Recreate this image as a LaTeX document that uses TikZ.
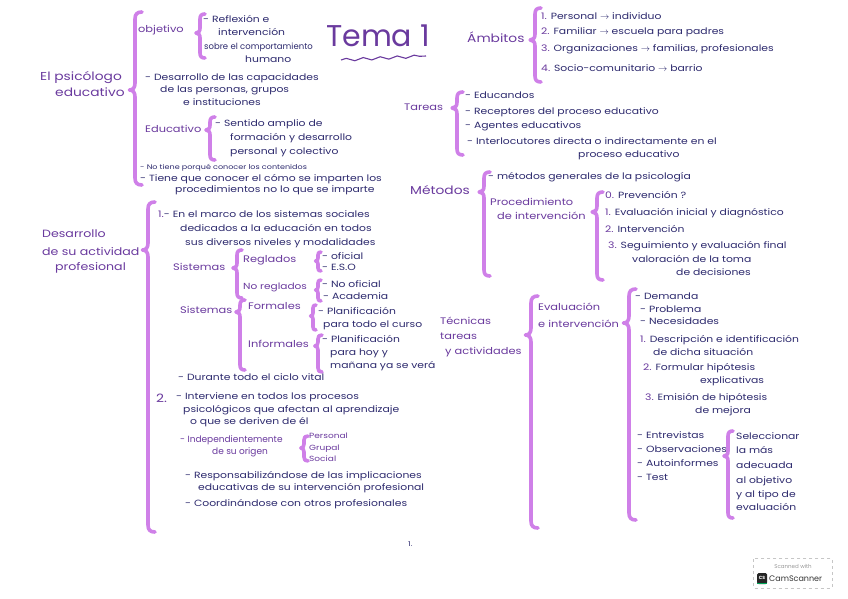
\documentclass[tikz,border=0pt]{standalone}
\usepackage{fontspec}
\usetikzlibrary{decorations.pathmorphing}
\newfontfamily\hand{Poppins}
\newfontfamily\handw[FakeStretch=1.2]{Poppins}
\definecolor{labc}{HTML}{6A3A9E}
\definecolor{bodyc}{HTML}{2D2A6E}
\definecolor{bracec}{HTML}{CF80E8}
\newcommand\bodyf{\handw\fontsize{9}{10}\selectfont}
\newcommand\smallf{\handw\fontsize{6.7}{8}\selectfont}
\newcommand\labf{\handw\fontsize{11.5}{13}\selectfont}
\newcommand\labsf{\handw\fontsize{9.5}{11}\selectfont}
\newcommand\pn[1]{\textcolor{labc}{#1}}
\newcommand\cbr[5][6]{%
 \draw[brc] ({#2+#1},#3) .. controls ({#2+0.3*#1},#3) and (#2,{#3+0.3*#1}) .. (#2,{#3+#1})
  -- (#2,{#4-#1}) .. controls (#2,{#4-0.3*#1}) and ({#2-0.3*#1},#4) .. ({#2-0.8*#1},#4)
  .. controls ({#2-0.3*#1},#4) and (#2,{#4+0.3*#1}) .. (#2,{#4+#1})
  -- (#2,{#5-#1}) .. controls (#2,{#5-0.3*#1}) and ({#2+0.3*#1},#5) .. ({#2+#1},#5);}
\tikzset{
 body/.style={font=\bodyf, text=bodyc, anchor=west, inner sep=0pt, text height=6.5pt, text depth=2pt},
 small/.style={body, font=\smallf, text height=5pt, text depth=1.5pt},
 lab/.style={font=\labf, text=labc, anchor=west, inner sep=0pt, text height=8pt, text depth=2.5pt},
 labs/.style={font=\labsf, text=labc, anchor=west, inner sep=0pt, text height=7pt, text depth=2pt},
 brc/.style={draw=bracec, line width=3.6pt, line cap=round, line join=round},
}
\begin{document}
\begin{tikzpicture}[x=1pt,y=-1pt]
\useasboundingbox[fill=white] (0,0) rectangle (848,599);
% ---------- left column ----------
\node[lab] (ps1) at (40,78) {El psicólogo};
\node[lab] (ps2) at (55,94) {educativo};
\cbr[7]{135}{12}{90}{185}
\node[labs] (obj) at (138,30) {objetivo};
\cbr[5]{200}{14}{33}{58}
\node[body] (o1) at (203,20) {- Reflexión e};
\node[body] (o2) at (218,33) {intervención};
\node[body, font=\hand\fontsize{8.5}{10}\selectfont] (o3) at (204,47) {sobre el comportamiento};
\node[body] (o4) at (245,60) {humano};
\node[body] (d1) at (145,78) {- Desarrollo de las capacidades};
\node[body] (d2) at (160,90) {de las personas, grupos};
\node[body] (d3) at (183,103) {e instituciones};
\node[labs] (edu) at (145,130) {Educativo};
\cbr[5]{210}{117}{130}{160}
\node[body] (e1) at (215,124) {- Sentido amplio de};
\node[body] (e2) at (230,138) {formación y desarrollo};
\node[body] (e3) at (230,152) {personal y colectivo};
\node[small] (nt) at (140,168) {- No tiene porqué conocer los contenidos};
\node[body] (tq1) at (140,179) {- Tiene que conocer el cómo se imparten los};
\node[body] (tq2) at (175,190) {procedimientos no lo que se imparte};
% Desarrollo
\node[lab, font=\handw\fontsize{10.5}{12}\selectfont] (da1) at (42,235) {Desarrollo};
\node[lab, font=\handw\fontsize{10.5}{12}\selectfont] (da2) at (42,253) {de su actividad};
\node[lab, font=\handw\fontsize{10.5}{12}\selectfont] (da3) at (55,268) {profesional};
\cbr[7]{148}{202}{250}{532}
\node[body] (m1) at (158,215) {\pn{1.}- En el marco de los sistemas sociales};
\node[body] (m2) at (180,229) {dedicados a la educación en todos};
\node[body] (m3) at (185,243) {sus diversos niveles y modalidades};
\node[labs] (sis1) at (173,268) {Sistemas};
\cbr[5]{237}{250}{268}{298}
\node[labs] (reg) at (243,260) {Reglados};
\node[labs, font=\handw\fontsize{8.8}{10}\selectfont] (noreg) at (243,287) {No reglados};
\cbr[3]{318}{252}{261}{271}
\node[body] (r1) at (322,257) {- oficial};
\node[body] (r2) at (322,268) {- E.S.O};
\cbr[3]{318}{280}{290}{301}
\node[body] (nr1) at (322,285) {- No oficial};
\node[body] (nr2) at (323,297) {- Academia};
\node[labs] (sis2) at (180,311) {Sistemas};
\cbr[5]{240}{300}{312}{370}
\node[labs] (form) at (248,307) {Formales};
\cbr[3]{313}{305}{316}{330}
\node[body] (f1) at (318,312) {- Planificación};
\node[body] (f2) at (323,325) {para todo el curso};
\node[labs] (inf) at (248,345) {Informales};
\cbr[4]{318}{335}{346}{372}
\node[body] (i1) at (322,340) {- Planificación};
\node[body] (i2) at (330,353) {para hoy y};
\node[body] (i3) at (330,366) {mañana ya se verá};
\node[body] (dur) at (178,378) {- Durante todo el ciclo vital};
\node[lab] (two) at (156,400) {2.};
\node[body] (iv1) at (176,397) {- Interviene en todos los procesos};
\node[body] (iv2) at (183,410) {psicológicos que afectan al aprendizaje};
\node[body] (iv3) at (190,422) {o que se deriven de él};
\node[body, text=labc, font=\hand\fontsize{9}{10}\selectfont] (ind1) at (180,440) {- Independientemente};
\node[body, text=labc, font=\hand\fontsize{9}{10}\selectfont] (ind2) at (212,452) {de su origen};
\cbr[4]{304}{436}{448}{461}
\node[small, text=labc, font=\handw\fontsize{7.5}{8}\selectfont] (pg1) at (309,437) {Personal};
\node[small, text=labc, font=\handw\fontsize{7.5}{8}\selectfont] (pg2) at (309,449) {Grupal};
\node[small, text=labc, font=\handw\fontsize{7.5}{8}\selectfont] (pg3) at (309,460) {Social};
\node[body] (res1) at (185,476) {- Responsabilizándose de las implicaciones};
\node[body] (res2) at (198,488) {educativas de su intervención profesional};
\node[body] (coo) at (185,504) {- Coordinándose con otros profesionales};
\node[small] (pag) at (408,545) {1.};
% ---------- right column ----------
\node[font=\hand\fontsize{30}{32}\selectfont, text=labc, anchor=west, inner sep=0pt] (tema) at (326,36) {Tema 1};
\draw[labc, line width=1.1pt, decorate, decoration={snake, amplitude=1.4pt, segment length=17pt}] (341,60) -- (426,56);
\node[lab] (amb) at (467,40) {Ámbitos};
\cbr[6]{535}{8}{40}{82}
\node[body] (a1) at (541,17) {\pn{1.} Personal $\to$ individuo};
\node[body] (a2) at (541,32) {\pn{2.} Familiar $\to$ escuela para padres};
\node[body] (a3) at (541,49) {\pn{3.} Organizaciones $\to$ familias, profesionales};
\node[body] (a4) at (541,69) {\pn{4.} Socio-comunitario $\to$ barrio};
\node[labs] (tar) at (404,108) {Tareas};
\cbr[6]{457}{92}{108}{155}
\node[body] (t1) at (465,96) {- Educandos};
\node[body] (t2) at (465,112) {- Receptores del proceso educativo};
\node[body] (t3) at (465,126) {- Agentes educativos};
\node[body] (t4) at (467,142) {- Interlocutores directa o indirectamente en el};
\node[body] (t5) at (578,155) {proceso educativo};
\node[lab] (met) at (410,192) {Métodos};
\cbr[6]{484}{172}{192}{276}
\node[body] (mg) at (488,177) {- métodos generales de la psicología};
\node[labs] (pr1) at (490,203) {Procedimiento};
\node[labs] (pr2) at (497,217) {de intervención};
\cbr[6]{597}{192}{212}{280}
\node[body] (p0) at (605,196) {\pn{0.} Prevención ?};
\node[body] (p1) at (605,213) {\pn{1.} Evaluación inicial y diagnóstico};
\node[body] (p2) at (605,230) {\pn{2.} Intervención};
\node[body] (p3) at (608,246) {\pn{3.} Seguimiento y evaluación final};
\node[body] (p4) at (632,260) {valoración de la toma};
\node[body] (p5) at (676,273) {de decisiones};
\node[labs] (tec1) at (440,322) {Técnicas};
\node[labs] (tec2) at (440,337) {tareas};
\node[labs] (tec3) at (445,352) {y actividades};
\cbr[7]{531}{296}{335}{528}
\node[labs] (ev1) at (538,308) {Evaluación};
\node[labs] (ev2) at (538,325) {e intervención};
\cbr[7]{629}{289}{323}{520}
\node[body] (dm) at (635,297) {- Demanda};
\node[body] (pb) at (640,310) {- Problema};
\node[body] (nc) at (640,322) {- Necesidades};
\node[body] (s1) at (640,340) {\pn{1.} Descripción e identificación};
\node[body] (s1b) at (653,353) {de dicha situación};
\node[body] (s2) at (643,368) {\pn{2.} Formular hipótesis};
\node[body] (s2b) at (700,381) {explicativas};
\node[body] (s3) at (645,398) {\pn{3.} Emisión de hipótesis};
\node[body] (s3b) at (695,411) {de mejora};
\node[body] (en) at (637,436) {- Entrevistas};
\node[body] (ob) at (637,450) {- Observaciones};
\node[body] (au) at (637,464) {- Autoinformes};
\node[body] (ts) at (637,478) {- Test};
\cbr[5]{728}{431}{456}{518}
\node[body] (g1) at (736,437) {Seleccionar};
\node[body] (g2) at (736,451) {la más};
\node[body] (g3) at (736,466) {adecuada};
\node[body] (g4) at (736,481) {al objetivo};
\node[body] (g5) at (736,495) {y al tipo de};
\node[body] (g6) at (736,508) {evaluación};
% ---------- CamScanner badge ----------
\draw[gray!45, dashed, line width=0.5pt, rounded corners=1pt] (753,558) rectangle (832,588);
\node[font=\hand\fontsize{5.5}{6}\selectfont, text=gray!80, inner sep=0pt] (scw) at (793,566) {Scanned with};
\fill[black!85, rounded corners=1.5pt] (757,573) rectangle (767,584);
\fill[teal!70!green] (757,582.5) rectangle (767,584);
\node[font=\hand\bfseries\fontsize{4.5}{5}\selectfont, text=white, inner sep=0pt] (cs) at (762,578) {CS};
\node[font=\hand\fontsize{8}{9}\selectfont, text=black!80, anchor=west, inner sep=0pt] (csn) at (769,579) {CamScanner};
\end{tikzpicture}
\end{document}
